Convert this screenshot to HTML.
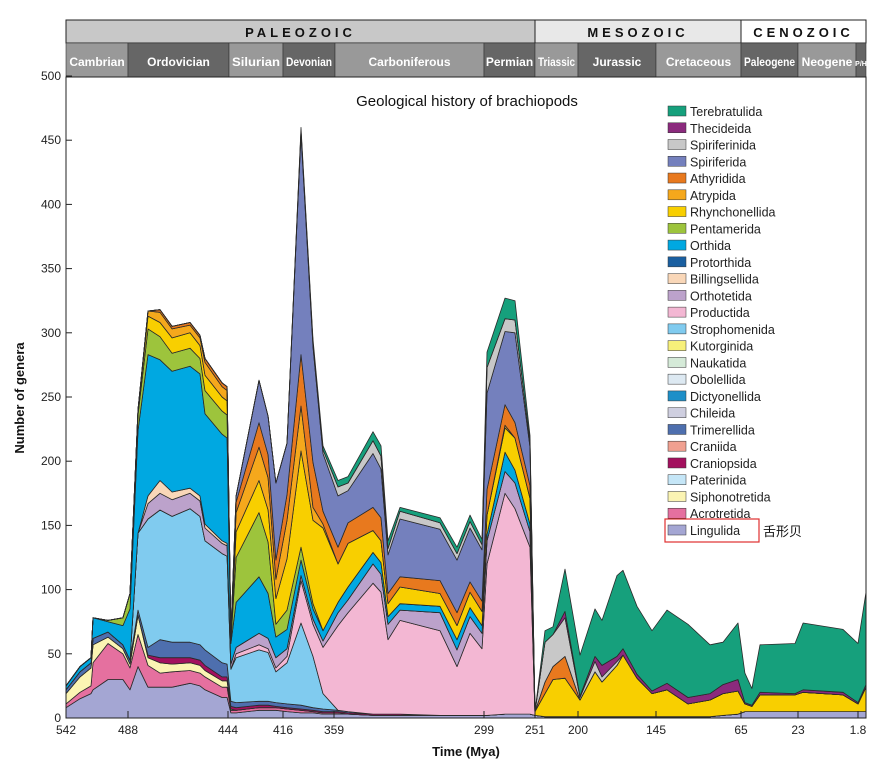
<!DOCTYPE html>
<html><head><meta charset="utf-8">
<style>
html,body{margin:0;padding:0;background:#fff;}
svg{display:block;font-family:"Liberation Sans","Noto Sans CJK SC",sans-serif;}
</style></head>
<body>
<svg id="chart" width="888" height="764" viewBox="0 0 888 764">
<g id="header"></g>
<g id="areas"></g>
<rect x="66" y="77" width="800" height="641" fill="none" stroke="#222" stroke-width="1"/>
<g id="axes"></g>
<text x="467" y="106" text-anchor="middle" font-size="15" fill="#111">Geological history of brachiopods</text>
<text transform="translate(24,398) rotate(-90)" text-anchor="middle" font-size="13" font-weight="bold" fill="#111">Number of genera</text>
<text x="466" y="756" text-anchor="middle" font-size="13" font-weight="bold" fill="#111">Time (Mya)</text>
<g id="legend"></g>
<rect x="665" y="519" width="94" height="23" fill="none" stroke="#e03030" stroke-width="1.2"/>
<text x="763" y="536" font-size="13" fill="#111">舌形贝</text>
</svg>
<script>
const Z = n => Array(n).fill(0);
const times = [542,529.8,520.2,518.5,505.4,492.4,487.1,483.6,479.2,473.9,468.6,460.7,456.3,454.1,446.6,444.4,442.5,439.9,428.2,423.6,419.6,411.5,395.9,382.5,371.3,357.4,353.4,343.4,340.2,337.4,332.6,316.6,309.8,304.6,299.8,296.2,279.2,269.8,255.7,251,239.1,229.7,215.4,198.6,188,183.1,172.5,168.3,158.4,147.8,134.6,114.9,94.2,81.9,67.8,62.1,57,51,25.2,21.2,7.1,1.8,0];
const ling = [8,15,19,22,30,30,22,40,24,24,24,27,25,22,16,16,4,4,6,6,6,5,4,4,3,3,3,2,2,2,2,2,2,2,2,2,3,3,3,2,1,1,1,1,1,1,1,1,1,1,1,1,1,2,3,5,5,5,5,5,5,5,5];
const acro = [3,5,6,21,28,20,17,25,17,11,12,10,10,10,8,8,2,2,2,2,2,2,2,1,1,1];
const siph = [8,12,14,14,5,4,3,15,6,8,6,6,6,5,5,5,1];
const cran = [0,0,0,0,0,0,0,0,2,4,5,4,4,4,3,3,2,2,2,2,1,1,1,1,1,1,1,1,1,1,1];
const trim = [3,4,4,5,4,3,3,4,6,14,12,12,12,12,11,10,4,4,3,3,3,3,3,2,2,1,1];
const stroph = [0,0,0,0,0,0,0,60,100,101,98,104,100,85,85,84,25,35,40,38,24,32,64,40,12];
const prod = [...Z(17),3,4,3,3,5,33,25,36,66,77,102,95,58,73,66,38,64,52,118,172,160,130];
const orthot = [...Z(8),12,13,13,12,12,10,8,8,4,5,9,8,8,6,4,4,5,10,10,15,14,12,8,14,13,13,12,18,17,20,12];
const bill = [...Z(8),6,10,6,4,4,3,2,2];
const orthida = [3,4,4,16,8,15,40,80,110,94,94,95,95,86,83,82,16,35,44,35,16,15,12,8,8,8,10,9,9,6,5,5,8,7,6,5,15,10,6];
const pent = [0,0,0,0,1,6,12,12,20,18,14,14,12,18,18,18,2,35,50,40,10,15,10,4];
const rhyn = [0,0,0,0,0,0,0,4,10,11,12,12,10,12,11,11,2,20,25,25,20,40,75,65,80,30,34,17,17,10,13,10,11,12,11,15,19,25,20,3,18,29,30,13,35,27,40,48,30,18,21,10,13,17,18,6,4,13,13,15,13,6,19];
const atryp = [0,0,0,0,0,0,0,0,4,8,7,6,6,10,8,8,2,15,26,25,15,30,35,10,3,0,0,0,0,0,0,0,0,0,0,0,2];
const athyr = [0,0,0,0,0,0,0,0,0,2,2,2,2,3,3,3,1,8,19,18,15,20,40,35,10,13,16,18,18,8,8,10,10,8,8,20,16,12,10,0,9,10,17];
const spirif = [...Z(16),1,5,33,30,60,40,172,90,45,40,25,42,38,30,45,40,41,42,40,75,57,70,30];
const spinf = [...Z(22),2,3,3,7,6,10,10,5,6,5,5,5,4,20,10,10,4,0,31,25,30,2,8,4,3];
const thec = [...Z(42),5,1,4,9,4,5,3,2,5,5,5,7,9,1,1,2,1,2,2,1,2];
const tereb = [...Z(22),3,3,3,5,5,7,8,6,3,4,5,5,4,12,16,15,5,0,9,6,33,32,37,35,63,61,53,47,57,57,38,33,44,23,13,37,39,52,49,46,72];

const seriesNames = ['lingulida','acrotretida','siphonotretida','craniopsida','trimerellida','strophomenida','productida','orthotetida','billingsellida','orthida','pentamerida','rhynchonellida','atrypida','athyridida','spiriferida','spiriferinida','thecideida','terebratulida'];
const seriesVals = [ling,acro,siph,cran,trim,stroph,prod,orthot,bill,orthida,pent,rhyn,atryp,athyr,spirif,spinf,thec,tereb];
const seriesColors = ['#a4a6d3','#e5709f','#fbf4b3','#a3105e','#4e6fae','#80cbef','#f3b7d3','#bca2cb','#f9d7b8','#00a8e1','#9dc43c','#f8cf00','#f5a81c','#e8791e','#7480bd','#c8c8c8','#8b2a7d','#16a07c'];

const xTicks = [542,488,444,416,359,299,251,200,145,65,23,1.8];
const xTickLabels = ['542','488','444','416','359','299','251','200','145','65','23','1.8'];
const yTicks = [0,50,100,150,200,250,300,350,400,450,500];

const legendNames = ['Terebratulida','Thecideida','Spiriferinida','Spiriferida','Athyridida','Atrypida','Rhynchonellida','Pentamerida','Orthida','Protorthida','Billingsellida','Orthotetida','Productida','Strophomenida','Kutorginida','Naukatida','Obolellida','Dictyonellida','Chileida','Trimerellida','Craniida','Craniopsida','Paterinida','Siphonotretida','Acrotretida','Lingulida'];
const legendColors = ['#16a07c','#8b2a7d','#c8c8c8','#7480bd','#e8791e','#f5a81c','#f8cf00','#9dc43c','#00a8e1','#1a5fa0','#f9d7b8','#bca2cb','#f3b7d3','#80cbef','#f7f07a','#d5ead8','#dde9f2','#1e8fc8','#cfcfe0','#4e6fae','#f0a090','#a3105e','#c5e6f7','#fbf4b3','#e5709f','#a4a6d3'];

const eras = ['PALEOZOIC','MESOZOIC','CENOZOIC'];
const periods = ['Cambrian','Ordovician','Silurian','Devonian','Carboniferous','Permian','Triassic','Jurassic','Cretaceous','Paleogene','Neogene','P/H'];

// axis functions
const domMya = [542,488,444,416,359,299,251,200,145,65,23,1.8,0];
const rngPx = [66,128,228,283,334,484,535,578,656,741,798,858,866];
function x(m){
  for(let i=0;i<domMya.length-1;i++){
    const a=domMya[i],b=domMya[i+1];
    if(m<=a && m>=b){return rngPx[i]+(a-m)/(a-b)*(rngPx[i+1]-rngPx[i]);}
  }
  return m>542?66:866;
}
function y(v){return 718 - v*1.284;}

const NS='http://www.w3.org/2000/svg';
function mk(tag,attrs,parent){const e=document.createElementNS(NS,tag);for(const k in attrs)e.setAttribute(k,attrs[k]);parent.appendChild(e);return e;}

// header
const hdr=document.getElementById('header');
const eraX=[[66,535,'#c8c8c8'],[535,741,'#e8e8e8'],[741,866,'#ffffff']];
eras.forEach((nm,i)=>{
  const r=mk('rect',{x:eraX[i][0],y:20,width:eraX[i][1]-eraX[i][0],height:23,fill:eraX[i][2],stroke:'#222','stroke-width':1},hdr);
  
  
  const t=mk('text',{x:(eraX[i][0]+eraX[i][1])/2,y:37,'text-anchor':'middle','font-size':13,'font-weight':'bold','letter-spacing':'4',fill:'#111'},hdr);
  t.textContent=nm;
  
  
});
const perX=[[66,128,'#999'],[128,229,'#666'],[229,283,'#999'],[283,335,'#666'],[335,484,'#999'],[484,535,'#666'],[535,578,'#999'],[578,656,'#666'],[656,741,'#999'],[741,798,'#666'],[798,856,'#999'],[856,866,'#666']];
periods.forEach((nm,i)=>{
  const r=mk('rect',{x:perX[i][0],y:43,width:perX[i][1]-perX[i][0],height:34,fill:perX[i][2],stroke:'#333','stroke-width':0.6},hdr);
  
  
  const w=perX[i][1]-perX[i][0];
  const t=mk('text',{x:(perX[i][0]+perX[i][1])/2,y:66,'text-anchor':'middle','font-size':w<20?7:12,'font-weight':'bold',fill:'#fff'},hdr);
  t.textContent=nm;
  if(w>20 && nm.length*6.6>w-4){t.setAttribute('textLength',w-6);t.setAttribute('lengthAdjust','spacingAndGlyphs');}
  
  
});

// stacked areas
const ag=document.getElementById('areas');
const N=times.length;
let base=Array(N).fill(0);
seriesVals.forEach((vals,si)=>{
  const top=base.map((b,i)=>b+(vals[i]||0));
  let pts=[];
  for(let i=0;i<N;i++)pts.push(x(times[i]).toFixed(1)+','+y(top[i]).toFixed(1));
  for(let i=N-1;i>=0;i--)pts.push(x(times[i]).toFixed(1)+','+y(base[i]).toFixed(1));
  const p=mk('polygon',{points:pts.join(' '),fill:seriesColors[si],stroke:'#2a2a2a','stroke-width':0.8,'stroke-linejoin':'round'},ag);
  
  
  base=top;
});

// axes
const ax=document.getElementById('axes');
yTicks.forEach(v=>{
  const l=mk('line',{x1:66,x2:72,y1:y(v),y2:y(v),stroke:'#222','stroke-width':1},ax);
  
  
  const t=mk('text',{x:61,y:y(v)+4,'text-anchor':'end','font-size':12,fill:'#222'},ax);
  t.textContent=v;
  
  
});
xTicks.forEach((m,i)=>{
  const l=mk('line',{x1:x(m),x2:x(m),y1:718,y2:711,stroke:'#222','stroke-width':1},ax);
  
  
  const t=mk('text',{x:x(m),y:734,'text-anchor':'middle','font-size':12,fill:'#222'},ax);
  t.textContent=xTickLabels[i];
  
  
});

// legend
const lg=document.getElementById('legend');
legendNames.forEach((nm,i)=>{
  const yy=106+i*16.76;
  const r=mk('rect',{x:668,y:yy,width:18,height:10,fill:legendColors[i],stroke:'#333','stroke-width':0.5},lg);
  
  
  const t=mk('text',{x:690,y:yy+10,'font-size':12.5,fill:'#222'},lg);
  t.textContent=nm;
  
  
});
</script>
</body></html>
